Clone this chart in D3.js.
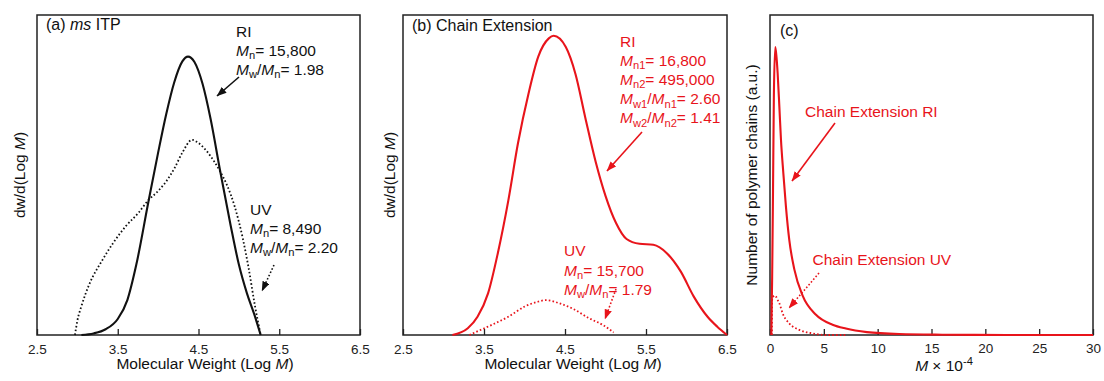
<!DOCTYPE html>
<html>
<head>
<meta charset="utf-8">
<script src="https://cdn.jsdelivr.net/npm/d3@7"></script>
<style>
  body { margin: 0; background: #fff; }
  text { font-family: "Liberation Sans", Arial, Helvetica, sans-serif; }
</style>
</head>
<body>
<svg id="chart" width="1104" height="381"></svg>
<script>
// ---- data ----
const logTicks = [2.5, 3.5, 4.5, 5.5, 6.5];
const mTicks = [0, 5, 10, 15, 20, 25, 30];

// (a) ms ITP, RI (solid) and UV (dotted), dw/d(log M) in arbitrary units
const itpRiLogM = [3.05, 3.2, 3.35, 3.5, 3.62, 3.73, 3.875, 4.0, 4.1, 4.2, 4.3, 4.37, 4.45, 4.55, 4.65, 4.77, 4.9, 5.0, 5.1, 5.19, 5.27];
const itpRiVal  = [0, 0.5, 1.8, 5, 11, 22, 41, 57, 69, 79, 85.5, 87, 85.3, 78.5, 67.5, 51, 34, 22, 13, 6.5, 0];
const itpUvLogM = [2.97, 3.0, 3.05, 3.15, 3.3, 3.45, 3.6, 3.75, 3.875, 4.0, 4.1, 4.2, 4.3, 4.42, 4.5, 4.6, 4.7, 4.77, 4.85, 4.95, 5.05, 5.12, 5.2, 5.27];
const itpUvVal  = [0, 4.5, 9, 16, 23, 29, 34, 38, 42, 45, 48, 52, 57, 61, 60, 57.5, 54, 51, 47, 40, 30, 21, 9, 0];

// (b) chain extension
const ceRiLogM = [3.11, 3.3, 3.42, 3.55, 3.67, 3.8, 3.92, 4.05, 4.17, 4.3, 4.36, 4.51, 4.63, 4.75, 4.88, 5.0, 5.13, 5.26, 5.42, 5.59, 5.76, 5.93, 6.09, 6.26, 6.38, 6.5];
const ceRiVal  = [0, 2.1, 5.7, 13, 25.5, 42, 60, 75.5, 87, 92.7, 93.5, 90, 81.5, 68, 54, 43.5, 35, 30, 28.5, 28.2, 25.5, 19.8, 12, 5.7, 2.6, 0];
const ceUvLogM = [3.32, 3.45, 3.59, 3.8, 4.01, 4.15, 4.27, 4.43, 4.59, 4.8, 4.97, 5.1];
const ceUvVal  = [0, 1.5, 3.1, 5.7, 9, 10.3, 10.9, 9.9, 8.3, 5.2, 3.1, 0.8];

// (c) number distribution vs M x 10^-4
const ceRiM   = [0.12, 0.2, 0.28, 0.36, 0.49, 0.6, 0.71, 0.87, 1.02, 1.24, 1.48, 1.79, 2.26, 3.03, 4.27, 5.81, 7.05, 9, 12, 16, 22, 30];
const ceRiNum = [0, 18, 45, 75, 90, 87, 81.8, 71.3, 61, 50.5, 40.1, 29.7, 20.5, 12.3, 6.3, 3.2, 2.0, 0.9, 0.3, 0.1, 0, 0];
const ceUvM   = [0.18, 0.2, 0.3, 0.45, 0.56, 0.7, 0.87, 1.17, 1.79, 2.72, 3.96, 5.2, 7];
const ceUvNum = [0, 11, 12, 12.3, 12, 11, 9.9, 6.8, 3.6, 1.6, 0.5, 0, 0];

const RED = "#e8141b";
const BLACK = "#111";
const TOP = 15, BOTTOM = 335;

const svg = d3.select("#chart");

// arrow heads
const defs = svg.append("defs");
[["black", BLACK], ["red", RED]].forEach(function (m) {
  defs.append("marker")
    .attr("id", "arrow-" + m[0])
    .attr("markerUnits", "userSpaceOnUse")
    .attr("markerWidth", 10).attr("markerHeight", 8)
    .attr("refX", 9.5).attr("refY", 3.75)
    .attr("orient", "auto")
    .append("path")
    .attr("d", "M0,0 L10,3.75 L0,7.5 Z")
    .attr("fill", m[1]);
});

// text with <i>, <sub>, <sup> bits
function richText(g, x, y, markup, size, color) {
  const t = g.append("text")
    .attr("x", x).attr("y", y)
    .attr("font-size", size)
    .attr("fill", color);
  const re = /<(i|sub|sup)>(.*?)<\/\1>|([^<]+)/g;
  let shift = 0, m;
  while ((m = re.exec(markup)) !== null) {
    const span = t.append("tspan");
    let target = 0;
    if (m[1] === "sub") target = size * 0.22;
    if (m[1] === "sup") target = -size * 0.4;
    span.attr("dy", target - shift);
    shift = target;
    if (m[1] === "i") span.attr("font-style", "italic");
    if (m[1] === "sub" || m[1] === "sup") span.attr("font-size", size * 0.72);
    span.text(m[1] ? m[2] : m[3]);
  }
  return t;
}

function drawPanel(cfg) {
  const x = d3.scaleLinear().domain(cfg.xDomain).range([cfg.left, cfg.right]);
  const y = d3.scaleLinear().domain([0, 100]).range([BOTTOM, TOP]);
  const g = svg.append("g");

  // frame
  g.append("rect")
    .attr("x", cfg.left).attr("y", TOP)
    .attr("width", cfg.right - cfg.left).attr("height", BOTTOM - TOP)
    .attr("fill", "none").attr("stroke", "#222").attr("stroke-width", 1.5);

  // bottom axis, ticks pointing inward
  const ax = g.append("g")
    .attr("transform", "translate(0," + BOTTOM + ")")
    .call(d3.axisBottom(x).tickValues(cfg.ticks)
      .tickSizeInner(-6).tickSizeOuter(0).tickPadding(cfg.tickPad)
      .tickFormat(cfg.tickFormat));
  ax.select(".domain").remove();
  ax.selectAll(".tick line").attr("stroke", "#222").attr("stroke-width", 1.3);
  ax.selectAll(".tick text")
    .attr("font-size", 13.5).attr("fill", "#222")
    .attr("font-family", "Liberation Sans, Arial, sans-serif");

  // curves
  cfg.series.forEach(function (s) {
    const pts = s.xs.map(function (v, i) { return [v, s.ys[i]]; });
    const line = d3.line()
      .x(function (d) { return x(d[0]); })
      .y(function (d) { return y(d[1]); })
      .curve(d3.curveMonotoneX);
    g.append("path")
      .datum(pts)
      .attr("d", line)
      .attr("fill", "none")
      .attr("stroke", s.color)
      .attr("stroke-width", s.dotted ? 1.8 : 2.1)
      .attr("stroke-dasharray", s.dotted ? "1.6,2.2" : null);
  });

  // titles
  richText(g, cfg.left + cfg.titleDx, cfg.titleY, cfg.title, 16, BLACK);
  richText(g, cfg.xTitleX, cfg.xTitleY, cfg.xTitle, 15.5, BLACK).attr("text-anchor", "middle");
  richText(g, 0, 0, cfg.yTitle, 15.5, BLACK)
    .attr("text-anchor", "middle")
    .attr("transform", "translate(" + cfg.yTitleX + ",175) rotate(-90)");

  // annotations
  cfg.notes.forEach(function (n) {
    n.lines.forEach(function (l, i) {
      richText(g, n.x, n.y + i * n.step, l, 15.5, n.color);
    });
  });
  cfg.arrows.forEach(function (a) {
    g.append("line")
      .attr("x1", a[0]).attr("y1", a[1]).attr("x2", a[2]).attr("y2", a[3])
      .attr("stroke", a[4]).attr("stroke-width", 1.6)
      .attr("stroke-dasharray", a[5] ? "1.6,2" : null)
      .attr("marker-end", "url(#arrow-" + (a[4] === RED ? "red" : "black") + ")");
  });
}

drawPanel({
  left: 37, right: 360, xDomain: [2.5, 6.5], ticks: logTicks,
  tickFormat: d3.format(".1f"), tickPad: 9,
  title: "(a) <i>ms</i> ITP", titleDx: 9, titleY: 29.5,
  xTitle: "Molecular Weight (Log <i>M</i>)", xTitleX: 205, xTitleY: 369,
  yTitle: "dw/d(Log <i>M</i>)", yTitleX: 25,
  series: [
    { xs: itpRiLogM, ys: itpRiVal, color: BLACK, dotted: false },
    { xs: itpUvLogM, ys: itpUvVal, color: BLACK, dotted: true }
  ],
  notes: [
    { x: 236, y: 37, step: 19, color: BLACK,
      lines: ["RI", "<i>M</i><sub>n</sub>= 15,800", "<i>M</i><sub>w</sub>/<i>M</i><sub>n</sub>= 1.98"] },
    { x: 250, y: 215, step: 19, color: BLACK,
      lines: ["UV", "<i>M</i><sub>n</sub>= 8,490", "<i>M</i><sub>w</sub>/<i>M</i><sub>n</sub>= 2.20"] }
  ],
  arrows: [
    [239, 77, 217, 96, BLACK, false],
    [274, 265, 262, 291, BLACK, true]
  ]
});

drawPanel({
  left: 403, right: 727, xDomain: [2.5, 6.5], ticks: logTicks,
  tickFormat: d3.format(".1f"), tickPad: 9,
  title: "(b) Chain Extension", titleDx: 9, titleY: 31,
  xTitle: "Molecular Weight (Log <i>M</i>)", xTitleX: 573, xTitleY: 369,
  yTitle: "dw/d(Log <i>M</i>)", yTitleX: 395,
  series: [
    { xs: ceRiLogM, ys: ceRiVal, color: RED, dotted: false },
    { xs: ceUvLogM, ys: ceUvVal, color: RED, dotted: true }
  ],
  notes: [
    { x: 620, y: 46.5, step: 19.2, color: RED,
      lines: ["RI", "<i>M</i><sub>n1</sub>= 16,800", "<i>M</i><sub>n2</sub>= 495,000",
              "<i>M</i><sub>w1</sub>/<i>M</i><sub>n1</sub>= 2.60", "<i>M</i><sub>w2</sub>/<i>M</i><sub>n2</sub>= 1.41"] },
    { x: 564, y: 256, step: 19.5, color: RED,
      lines: ["UV", "<i>M</i><sub>n</sub>= 15,700", "<i>M</i><sub>w</sub>/<i>M</i><sub>n</sub>= 1.79"] }
  ],
  arrows: [
    [642, 132, 607, 171, RED, false],
    [616, 289, 605, 319, RED, true]
  ]
});

drawPanel({
  left: 770, right: 1093, xDomain: [0, 30], ticks: mTicks,
  tickFormat: d3.format("d"), tickPad: 8,
  title: "(c)", titleDx: 10, titleY: 36,
  xTitle: "<i>M</i> × 10<sup>-4</sup>", xTitleX: 944, xTitleY: 371,
  yTitle: "Number of polymer chains (a.u.)", yTitleX: 757,
  series: [
    { xs: ceRiM, ys: ceRiNum, color: RED, dotted: false },
    { xs: ceUvM, ys: ceUvNum, color: RED, dotted: true }
  ],
  notes: [
    { x: 805, y: 117, step: 0, color: RED, lines: ["Chain Extension RI"] },
    { x: 812.5, y: 265, step: 0, color: RED, lines: ["Chain Extension UV"] }
  ],
  arrows: [
    [835, 123, 792, 181, RED, false],
    [819, 273, 789, 308, RED, true]
  ]
});
</script>
</body>
</html>
